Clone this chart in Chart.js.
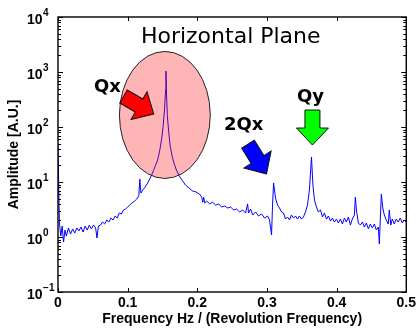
<!DOCTYPE html>
<html lang="en">
<head>
<meta charset="UTF-8" />
<title>Horizontal Plane</title>
<script src="https://cdn.jsdelivr.net/npm/chart.js"></script>
<style>
  html, body { margin: 0; padding: 0; background: #fff; }
</style>
</head>
<body>
<canvas id="spectrum" width="419" height="328"></canvas>
<script>
// tune spectrum, frequency in units of revolution frequency
const freqs = [
  0.000, 0.002, 0.004, 0.006, 0.008, 0.010, 0.012, 0.015, 0.018, 0.021,
  0.024, 0.027, 0.030, 0.033, 0.036, 0.039, 0.042, 0.045, 0.048, 0.051,
  0.054, 0.056, 0.058, 0.061, 0.064, 0.067, 0.070, 0.073, 0.076, 0.079,
  0.082, 0.085, 0.088, 0.091, 0.094, 0.097, 0.100, 0.103, 0.106, 0.110,
  0.113, 0.116, 0.1175, 0.119, 0.122, 0.125, 0.128, 0.131, 0.134, 0.137,
  0.140, 0.143, 0.146, 0.149, 0.151, 0.153, 0.1545, 0.155, 0.1558, 0.157,
  0.159, 0.161, 0.164, 0.167, 0.170, 0.174, 0.178, 0.183, 0.188, 0.193,
  0.198, 0.2034, 0.2063, 0.2078, 0.2092, 0.2106, 0.2135, 0.2178, 0.2220, 0.2264,
  0.2307, 0.2350, 0.2393, 0.2436, 0.2479, 0.2521, 0.2564, 0.2607, 0.2650, 0.2693,
  0.2722, 0.2736, 0.2765, 0.2794, 0.2837, 0.2880, 0.2923, 0.2966, 0.3009, 0.3037,
  0.3066, 0.3080, 0.3095, 0.3123, 0.3152, 0.3180, 0.3209, 0.3238, 0.3266, 0.3295,
  0.3324, 0.3352, 0.3381, 0.3410, 0.3438, 0.3467, 0.3496, 0.3524, 0.3553, 0.3582,
  0.3610, 0.3639, 0.3660, 0.3682, 0.3711, 0.3739, 0.3768, 0.3797, 0.3825, 0.3854,
  0.3883, 0.3911, 0.3940, 0.3968, 0.3997, 0.4026, 0.4054, 0.4083, 0.4112, 0.4140,
  0.4169, 0.4198, 0.4226, 0.4255, 0.4269, 0.4284, 0.4312, 0.4341, 0.4370, 0.4398,
  0.4427, 0.4456, 0.4484, 0.4513, 0.4542, 0.4570, 0.4599, 0.4613, 0.4642, 0.4663,
  0.4685, 0.4713, 0.4742, 0.4756, 0.4778, 0.4799, 0.4828, 0.4857, 0.4885, 0.4914,
  0.4943, 0.4971, 0.5000
];
const amps = [
  47, 1.87, 1.04, 1.58, 0.81, 1.34, 1.04, 1.46, 1.13, 1.40,
  1.18, 1.46, 1.29, 1.52, 1.23, 1.58, 1.34, 1.65, 1.40, 1.65,
  1.46, 0.96, 1.58, 1.65, 1.87, 1.72, 2.04, 1.87, 2.21, 2.04,
  2.41, 2.21, 2.73, 2.62, 3.10, 3.23, 3.50, 3.80, 4.15, 4.50,
  4.90, 5.60, 11.3, 6.30, 7.20, 8.10, 9.20, 10.9, 13.0, 16.0,
  20.0, 25.0, 37.0, 63.0, 105, 215, 480, 1040, 400, 160,
  80, 46, 29, 21, 16.5, 12.9, 10.9, 8.8, 7.8, 6.9,
  6.6, 6.0, 5.3, 4.3, 5.3, 4.15, 4.5, 4.0, 4.3, 3.8,
  4.0, 3.5, 3.66, 3.37, 3.5, 3.1, 3.23, 2.85, 3.1, 2.73,
  4.0, 2.73, 3.23, 2.51, 2.85, 2.41, 2.62, 2.21, 2.41, 2.04,
  1.09, 3.8, 9.6, 5.1, 3.8, 3.37, 2.85, 2.73, 2.12, 2.31,
  2.04, 2.51, 2.21, 2.41, 2.12, 2.41, 2.12, 2.31, 2.85, 3.8,
  7.2, 28.5, 8.8, 4.7, 3.5, 2.85, 3.1, 2.31, 2.73, 2.12,
  2.41, 1.95, 2.21, 1.87, 2.12, 1.80, 2.12, 1.72, 2.21, 1.87,
  2.31, 1.65, 2.12, 2.51, 5.3, 3.1, 1.80, 1.65, 1.87, 1.52,
  1.80, 1.40, 1.72, 1.46, 1.72, 1.34, 1.52, 0.75, 6.05, 3.37,
  2.51, 2.04, 1.72, 3.1, 1.65, 2.12, 1.72, 2.12, 1.87, 2.21,
  1.80, 2.04, 1.87
];
const xTicks = [0, 0.1, 0.2, 0.3, 0.4, 0.5];
const decades = [-1, 0, 1, 2, 3, 4];

const points = freqs.map((f, i) => ({ x: f, y: amps[i] }));

const axisFont = 'bold 14px "Liberation Sans", Arial, sans-serif';
const markFont = 'bold 18px "DejaVu Sans", sans-serif';

// fat block arrow, tip at (tx, ty), pointing along angle (degrees, screen coords)
function drawArrow(ctx, tx, ty, angle, fill) {
  const shape = [[0, 0], [-17, 16], [-17, 7.5], [-35, 7.5], [-35, -7.5], [-17, -7.5], [-17, -16]];
  ctx.save();
  ctx.translate(tx, ty);
  ctx.rotate(angle * Math.PI / 180);
  ctx.beginPath();
  shape.forEach(([x, y], i) => (i ? ctx.lineTo(x, y) : ctx.moveTo(x, y)));
  ctx.closePath();
  ctx.fillStyle = fill;
  ctx.fill();
  ctx.lineWidth = 1;
  ctx.strokeStyle = '#111';
  ctx.stroke();
  ctx.restore();
}

const overlay = {
  id: 'overlay',
  afterDatasetsDraw(chart) {
    const { ctx, scales: { x, y } } = chart;
    ctx.save();

    // tune region highlight
    const l = x.getPixelForValue(0.0882), r = x.getPixelForValue(0.2186);
    const t = y.getPixelForValue(2360), b = y.getPixelForValue(11.6);
    ctx.beginPath();
    ctx.ellipse((l + r) / 2, (t + b) / 2, (r - l) / 2, (b - t) / 2, 0, 0, Math.PI * 2);
    ctx.fillStyle = 'rgba(255, 0, 0, 0.29)';
    ctx.fill();
    ctx.lineWidth = 1;
    ctx.strokeStyle = '#222';
    ctx.stroke();

    drawArrow(ctx, x.getPixelForValue(0.1375), y.getPixelForValue(172), 30, '#ff0000');
    drawArrow(ctx, x.getPixelForValue(0.2994), y.getPixelForValue(14), 58, '#0000ff');
    drawArrow(ctx, x.getPixelForValue(0.3653), y.getPixelForValue(47), 90, '#00ff00');

    ctx.fillStyle = '#000';
    ctx.textAlign = 'center';
    ctx.textBaseline = 'alphabetic';
    ctx.font = markFont;
    ctx.fillText('Qx', x.getPixelForValue(0.0709), y.getPixelForValue(433));
    ctx.fillText('2Qx', x.getPixelForValue(0.2665), y.getPixelForValue(88));
    ctx.fillText('Qy', x.getPixelForValue(0.3625), y.getPixelForValue(285));

    ctx.font = '22px "DejaVu Sans", sans-serif';
    ctx.fillText('Horizontal Plane', x.getPixelForValue(0.248), y.getPixelForValue(3365));
    ctx.restore();
  },
  afterDraw(chart) {
    const { ctx, chartArea: a, scales: { x, y } } = chart;
    ctx.save();
    ctx.strokeStyle = '#000';
    ctx.lineWidth = 1;

    // inward tick marks on all four sides
    ctx.beginPath();
    xTicks.forEach(v => {
      const px = Math.round(x.getPixelForValue(v)) + 0.5;
      ctx.moveTo(px, a.bottom); ctx.lineTo(px, a.bottom - 4);
      ctx.moveTo(px, a.top); ctx.lineTo(px, a.top + 4);
    });
    decades.forEach(e => {
      for (let m = 1; m <= 9; m++) {
        const v = m * Math.pow(10, e);
        if (v > 10000) break;
        const py = Math.round(y.getPixelForValue(v)) + 0.5;
        const len = m === 1 ? 5 : 3;
        ctx.moveTo(a.left, py); ctx.lineTo(a.left + len, py);
        ctx.moveTo(a.right, py); ctx.lineTo(a.right - len, py);
      }
    });
    ctx.stroke();

    // frame
    ctx.lineWidth = 1.4;
    ctx.strokeRect(a.left, a.top, a.right - a.left, a.bottom - a.top);

    // power-of-ten labels
    ctx.fillStyle = '#000';
    ctx.textAlign = 'left';
    ctx.textBaseline = 'middle';
    decades.forEach(e => {
      const py = y.getPixelForValue(Math.pow(10, e));
      ctx.font = axisFont;
      ctx.fillText('10', 27, py + 3);
      const w = ctx.measureText('10').width;
      ctx.font = 'bold 10px "Liberation Sans", Arial, sans-serif';
      ctx.fillText(e < 0 ? '\u2212' + Math.abs(e) : String(e), 27 + w + 0.5, py - 4);
    });
    ctx.restore();
  }
};

new Chart(document.getElementById('spectrum'), {
  type: 'line',
  data: {
    datasets: [{
      data: points,
      borderColor: '#0000ff',
      borderWidth: 1,
      pointRadius: 0,
      tension: 0,
      fill: false
    }]
  },
  options: {
    responsive: false,
    animation: false,
    layout: { padding: { top: 17, right: 12, left: 0, bottom: 0 } },
    plugins: { legend: { display: false }, tooltip: { enabled: false } },
    scales: {
      x: {
        type: 'linear',
        min: 0,
        max: 0.5,
        afterBuildTicks: s => { s.ticks = xTicks.map(v => ({ value: v })); },
        afterFit: s => { s.height = 36; },
        grid: { display: false, drawTicks: false },
        border: { display: false },
        ticks: {
          color: '#000',
          padding: 3,
          maxRotation: 0,
          font: { family: '"Liberation Sans", Arial, sans-serif', weight: 'bold', size: 14 },
          callback: v => String(v)
        },
        title: {
          display: true,
          text: 'Frequency Hz / (Revolution Frequency)',
          color: '#000',
          padding: { top: 0, bottom: 0 },
          font: { family: '"Liberation Sans", Arial, sans-serif', weight: 'bold', size: 14 }
        }
      },
      y: {
        type: 'logarithmic',
        min: 0.1,
        max: 10000,
        afterFit: s => { s.width = 58; },
        grid: { display: false, drawTicks: false },
        border: { display: false },
        ticks: { callback: () => '' },
        title: {
          display: true,
          text: 'Amplitude [A.U.]',
          color: '#000',
          padding: { top: 6, bottom: 0 },
          font: { family: '"Liberation Sans", Arial, sans-serif', weight: 'bold', size: 14 }
        }
      }
    }
  },
  plugins: [overlay]
});
</script>
</body>
</html>
